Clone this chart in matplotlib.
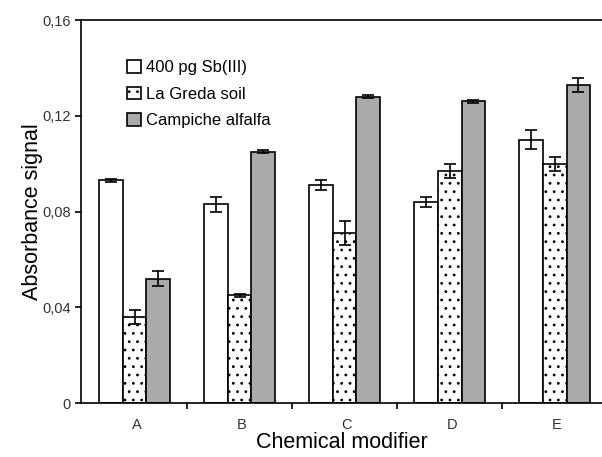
import numpy as np
import matplotlib
matplotlib.use("Agg")
import matplotlib.pyplot as plt

plt.rcParams["font.family"] = ["Liberation Sans", "DejaVu Sans"]
plt.rcParams["hatch.linewidth"] = 0.8

# data
modifiers = ["A", "B", "C", "D", "E"]
series_names = ["400 pg Sb(III)", "La Greda soil", "Campiche alfalfa"]
sb_vals = [0.093, 0.083, 0.091, 0.084, 0.110]
sb_err = [0.0006, 0.003, 0.002, 0.0022, 0.004]
soil_vals = [0.036, 0.045, 0.071, 0.097, 0.100]
soil_err = [0.003, 0.0006, 0.005, 0.003, 0.003]
alfalfa_vals = [0.052, 0.105, 0.128, 0.126, 0.133]
alfalfa_err = [0.003, 0.0006, 0.0006, 0.0006, 0.003]
ytick_vals = [0, 0.04, 0.08, 0.12, 0.16]
ytick_labels = ["0", "0,04", "0,08", "0,12", "0,16"]

fig = plt.figure(figsize=(6.02, 4.57), dpi=100)
ax = fig.add_axes([0.1346, 0.118, 0.8654, 0.838])

x = np.arange(len(modifiers))
width = 0.225
styles = [
    dict(color="white", hatch=None),
    dict(color="white", hatch=".."),
    dict(color="#aaaaaa", hatch=None),
]
vals = [sb_vals, soil_vals, alfalfa_vals]
errs = [sb_err, soil_err, alfalfa_err]

for i in range(3):
    ax.bar(
        x + (i - 1) * width,
        vals[i],
        width=width,
        color=styles[i]["color"],
        hatch=styles[i]["hatch"],
        edgecolor="black",
        linewidth=1.2,
        label=series_names[i],
        yerr=errs[i],
        capsize=4,
        error_kw=dict(elinewidth=1.2, capthick=1.2, ecolor="black"),
    )

ax.set_xlim(-0.51, 4.45)
ax.set_ylim(0, 0.16)
ax.set_xticks(x[:-1] + 0.5)
ax.set_xticklabels([])
ax.set_xticks(x + 0.02, minor=True)
ax.set_xticklabels(modifiers, minor=True)
ax.tick_params(axis="x", which="minor", length=0, pad=11, labelsize=10.5)
ax.tick_params(axis="x", which="major", length=4, width=1.2, direction="out")
ax.set_yticks(ytick_vals)
ax.set_yticklabels(ytick_labels)
ax.tick_params(axis="y", length=4, width=1.2, direction="out", labelsize=10.5)
ax.tick_params(axis="both", which="both", colors="black", labelcolor="#333333")

for s in ["left", "bottom", "top"]:
    ax.spines[s].set_linewidth(1.2)
ax.spines["right"].set_visible(False)

ax.set_ylabel("Absorbance signal", fontsize=15.5, labelpad=-1)
ax.set_xlabel("Chemical modifier", fontsize=15.5, labelpad=0)

ax.legend(
    loc="upper left",
    bbox_to_anchor=(0.06, 0.935),
    frameon=False,
    fontsize=12,
    handlelength=0.8,
    handleheight=0.8,
    handletextpad=0.3,
    labelspacing=0.68,
)

plt.savefig("out.png", dpi=100)
